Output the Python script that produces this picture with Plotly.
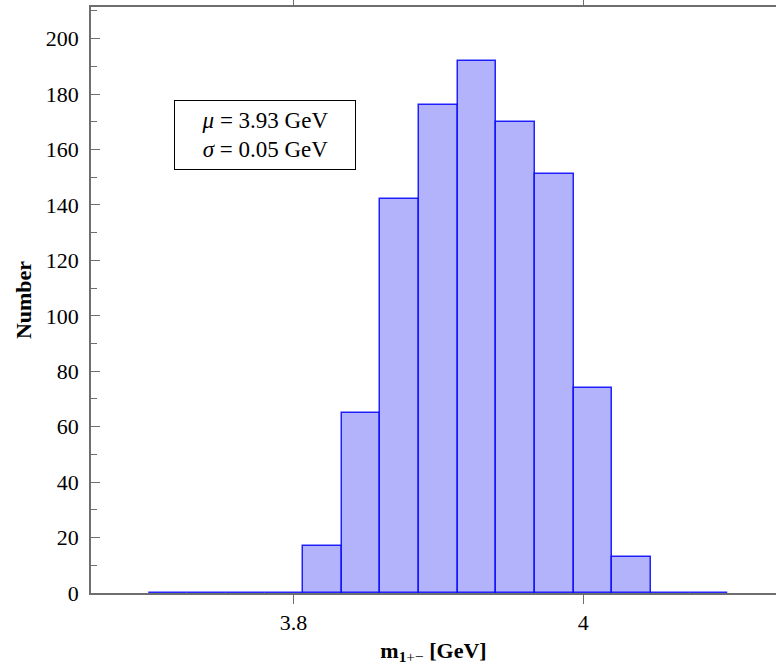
import plotly.graph_objects as go

# Data
bin_start = 3.70
bin_end = 4.10
n_bins = 15
counts = [0, 0, 0, 0, 17, 65, 142, 176, 192, 170, 151, 74, 13, 0, 0]
y_ticks = [0, 20, 40, 60, 80, 100, 120, 140, 160, 180, 200]
x_ticks = [3.8, 4.0]
x_tick_labels = ["3.8", "4"]
mu_text = "3.93"
sigma_text = "0.05"

bw = (bin_end - bin_start) / n_bins
centers = [bin_start + bw * (i + 0.5) for i in range(n_bins)]

FONT = "Liberation Serif"
AXC = "#6e6e6e"

fig = go.Figure()
fig.add_trace(go.Bar(
    x=centers, y=counts, width=[bw] * n_bins,
    marker=dict(color="rgb(179,179,252)", line=dict(color="rgba(0,0,255,0.85)", width=1.5)),
    showlegend=False,
))

fig.update_layout(
    width=776, height=669,
    margin=dict(l=91, r=0, t=7, b=76),
    plot_bgcolor="white", paper_bgcolor="white",
    font=dict(family=FONT, size=22, color="black"),
    bargap=0,
    xaxis=dict(
        range=[3.6603, 4.1329], automargin=False,
        tickvals=x_ticks, ticktext=x_tick_labels,
        ticks="outside", ticklen=9, tickcolor=AXC, tickwidth=1,
        showline=True, linecolor=AXC, linewidth=1.5, mirror="ticks",
        showgrid=False, zeroline=False,
        title=dict(text="<b>m</b><sub><b>1</b>+−</sub> <b>[GeV]</b>", font=dict(size=22), standoff=8),
    ),
    yaxis=dict(
        range=[0, 211.4], automargin=False,
        tickvals=y_ticks,
        ticks="inside", ticklen=9, tickcolor=AXC, tickwidth=1,
        minor=dict(dtick=10, ticks="inside", ticklen=6, tickcolor=AXC, tickwidth=1),
        showline=True, linecolor=AXC, linewidth=1.5,
        showgrid=False, zeroline=False,
        ticklabelstandoff=6,
        title=dict(text="<b>Number</b>", font=dict(size=22), standoff=8),
    ),
    annotations=[dict(
        xref="paper", yref="paper", x=0.2536, y=0.7818,
        xanchor="center", yanchor="middle",
        text=f"<i>μ</i> = {mu_text} GeV<br><i>σ</i> = {sigma_text} GeV",
        showarrow=False, align="center",
        font=dict(family=FONT, size=23, color="black"),
        bordercolor="black", borderwidth=1, borderpad=6, bgcolor="white",
        width=168, height=56,
    )],
)

fig.write_html("out.html", config={"displayModeBar": False},
               post_script="document.body.style.margin='0';")
